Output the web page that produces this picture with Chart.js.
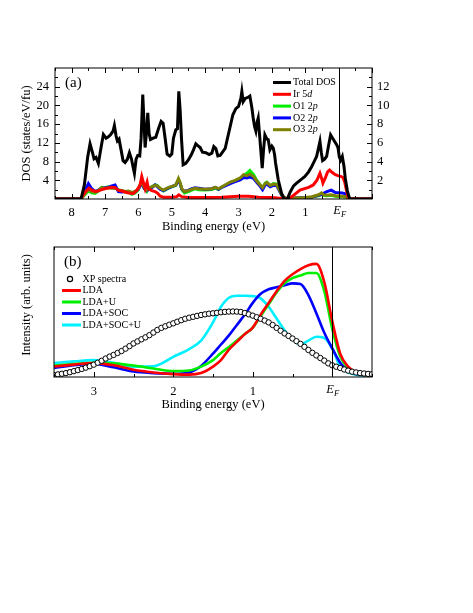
<!DOCTYPE html>
<html>
<head>
<meta charset="utf-8">
<script src="https://cdn.jsdelivr.net/npm/chart.js@4.4.0/dist/chart.umd.min.js"></script>
<style>
  body { margin: 0; background: #fff; }
  #wrap { position: relative; width: 473px; height: 613px; }
  canvas { position: absolute; left: 0; }
  #dos { top: 0; }
  #xps { top: 228px; }
</style>
</head>
<body>
<div id="wrap">
  <canvas id="dos" width="473" height="240"></canvas>
  <canvas id="xps" width="473" height="192"></canvas>
</div>
<script>
/* ---- panel (a): DOS ---- */
const dosTickE = [8, 7, 6, 5, 4, 3, 2, 1, 0];
const dosTickL = [4, 8, 12, 16, 20, 24];
const dosTickR = [2, 4, 6, 8, 10, 12];

const totalE = [8.5, 7.72, 7.62, 7.52, 7.45, 7.38, 7.33, 7.27, 7.2, 7.12, 7.05, 6.97, 6.9, 6.83, 6.76, 6.72, 6.67, 6.63, 6.58, 6.52, 6.46, 6.4, 6.33, 6.27, 6.21, 6.15, 6.12, 6.07, 6.02, 5.96, 5.92, 5.87, 5.83, 5.8, 5.76, 5.72, 5.68, 5.64, 5.56, 5.48, 5.4, 5.32, 5.26, 5.2, 5.14, 5.06, 5.0, 4.95, 4.88, 4.83, 4.79, 4.75, 4.71, 4.66, 4.58, 4.5, 4.42, 4.35, 4.28, 4.22, 4.15, 4.08, 3.98, 3.88, 3.8, 3.74, 3.68, 3.62, 3.55, 3.48, 3.4, 3.33, 3.25, 3.17, 3.08, 3.0, 2.93, 2.9, 2.86, 2.8, 2.72, 2.66, 2.6, 2.56, 2.52, 2.48, 2.44, 2.41, 2.35, 2.29, 2.25, 2.21, 2.15, 2.11, 2.06, 2.0, 1.96, 1.92, 1.89, 1.81, 1.71, 1.63, 1.54, 1.45, 1.35, 1.26, 1.12, 1.01, 0.9, 0.81, 0.72, 0.66, 0.6, 0.56, 0.52, 0.48, 0.42, 0.36, 0.3, 0.24, 0.18, 0.12, 0.06, 0.02, -0.02, -0.06, -0.11, -0.16, -0.2, -0.26, -0.33, -1];
const totalDOS = [0, 0, 3, 9, 11.8, 10, 8.6, 8.9, 7.6, 11, 13.8, 13.0, 13.3, 13.8, 14.5, 15.7, 13.5, 12.4, 12.8, 10.5, 8.2, 7.8, 8.5, 9.9, 8.6, 6.5, 5.5, 8.5, 9.3, 9.2, 13, 22.3, 16, 11, 14, 18.4, 14, 12.7, 13, 13.2, 15, 16.6, 16.2, 13, 9.6, 9.2, 9.6, 13, 14.8, 15, 23, 19, 13, 7.3, 7.6, 8.4, 9.4, 10.5, 11.8, 11.4, 11.0, 10, 9.9, 9.5, 9.8, 11.2, 10.8, 9.2, 9.3, 10, 10.8, 13, 15.5, 18, 19.3, 19.8, 21.5, 23, 20.8, 21.5, 21.7, 22, 19.5, 17.3, 15.5, 14.5, 16.5, 17.3, 12, 6.6, 10.5, 13.7, 12.8, 12.7, 10.5, 11.3, 10.9, 9.5, 7.7, 4.1, 1.2, 0, 0, 1.5, 2.8, 3.4, 4.2, 4.8, 5.8, 6.9, 8.2, 9.1, 11, 12.3, 10, 8.2, 8.5, 9.1, 11.5, 13.7, 13, 12.3, 11.6, 11, 9, 8.3, 9.1, 7, 4.4, 1.8, 0, 0];

const irE = [8.5, 7.72, 7.6, 7.48, 7.38, 7.25, 7.1, 6.95, 6.8, 6.7, 6.6, 6.45, 6.3, 6.15, 6.05, 5.95, 5.9, 5.85, 5.8, 5.74, 5.7, 5.6, 5.5, 5.42, 5.35, 5.25, 5.0, 4.85, 4.79, 4.7, 4.5, 4.0, 3.5, 3.0, 2.7, 2.4, 2.0, 1.7, 1.55, 1.4, 1.16, 0.9, 0.76, 0.65, 0.56, 0.5, 0.47, 0.4, 0.33, 0.27, 0.2, 0.1, 0.02, -0.08, -0.13, -0.18, -0.23, -0.28, -0.33, -1];
const ir5d = [0, 0, 1.5, 2.3, 1.8, 1.6, 2.0, 2.3, 2.5, 2.4, 1.9, 1.6, 1.3, 1.2, 1.8, 3.0, 4.8, 3.5, 2.2, 3.6, 2.2, 1.8, 1.6, 1.2, 0.6, 0.4, 0.4, 0.5, 0.9, 0.5, 0.3, 0.3, 0.4, 0.6, 0.6, 0.4, 0.3, 0.1, 0, 0.5, 1.9, 2.5, 3.0, 4.0, 5.5, 4.2, 3.4, 4.5, 5.8, 6.2, 5.7, 5.2, 5.0, 4.8, 4.6, 3.7, 2.0, 0.5, 0, 0];

const oE = [8.5, 7.72, 7.6, 7.5, 7.4, 7.3, 7.2, 7.1, 7.0, 6.9, 6.8, 6.7, 6.6, 6.5, 6.4, 6.3, 6.2, 6.1, 6.0, 5.93, 5.88, 5.82, 5.75, 5.7, 5.6, 5.5, 5.44, 5.35, 5.25, 5.15, 5.05, 4.95, 4.88, 4.8, 4.75, 4.7, 4.62, 4.5, 4.4, 4.3, 4.2, 4.0, 3.8, 3.7, 3.6, 3.5, 3.4, 3.25, 3.1, 2.95, 2.85, 2.75, 2.66, 2.55, 2.45, 2.35, 2.28, 2.2, 2.15, 2.05, 1.95, 1.86, 1.78, 1.68, 1.55, 1.3, 1.0, 0.8, 0.6, 0.51, 0.45, 0.35, 0.22, 0.1, -0.1, -0.2, -0.3, -1];
const o1 = [0, 0, 1.0, 1.7, 1.3, 1.2, 1.7, 2.5, 2.4, 2.6, 2.4, 2.3, 2.0, 1.8, 1.5, 1.5, 1.0, 1.3, 2.0, 3.3, 3.0, 2.2, 1.6, 2.2, 2.6, 3.0, 2.9, 2.2, 1.7, 2.1, 2.5, 2.7, 2.9, 4.2, 3.4, 2.0, 1.3, 1.6, 1.9, 2.2, 2.0, 1.9, 2.0, 2.3, 2.0, 2.5, 2.9, 3.5, 3.9, 4.4, 5.0, 5.5, 6.1, 5.2, 3.9, 3.0, 2.3, 3.4, 3.6, 2.8, 3.3, 3.2, 2.0, 0.5, 0, 0.2, 0.3, 0.4, 0.7, 1.0, 0.8, 0.7, 0.8, 0.6, 0.5, 0.4, 0, 0];
const o2 = [0, 0, 1.8, 3.3, 2.2, 1.6, 1.9, 2.3, 2.4, 2.5, 2.8, 3.0, 1.6, 1.5, 1.6, 1.6, 1.3, 1.5, 2.1, 3.1, 3.0, 2.2, 1.8, 2.0, 2.4, 3.0, 2.7, 2.1, 1.8, 2.2, 2.5, 2.8, 3.0, 4.0, 3.3, 2.1, 1.6, 1.9, 2.2, 2.4, 2.3, 2.1, 2.2, 2.5, 2.1, 2.5, 2.8, 3.3, 3.7, 4.1, 4.6, 4.5, 4.7, 4.4, 3.5, 2.7, 2.0, 3.0, 3.2, 2.6, 2.9, 2.9, 1.8, 0.5, 0, 0.2, 0.3, 0.4, 0.8, 1.0, 1.2, 1.6, 1.9, 1.4, 1.3, 1.1, 0, 0];
const o3 = [0, 0, 1.2, 2.0, 1.6, 1.4, 1.8, 2.4, 2.3, 2.4, 2.3, 2.4, 1.9, 1.8, 1.6, 1.7, 1.4, 1.6, 2.2, 3.4, 3.2, 2.4, 1.9, 2.3, 2.6, 2.9, 2.8, 2.3, 1.9, 2.3, 2.6, 2.8, 3.0, 4.4, 3.5, 2.2, 1.6, 1.8, 2.1, 2.3, 2.2, 2.1, 2.2, 2.5, 2.2, 2.6, 3.0, 3.6, 4.0, 4.5, 5.2, 5.0, 5.3, 4.8, 3.8, 3.0, 2.4, 3.3, 3.5, 2.9, 3.2, 3.1, 2.0, 0.6, 0, 0.2, 0.3, 0.5, 0.9, 1.3, 0.9, 0.8, 0.9, 0.7, 0.6, 0.5, 0, 0];

const dosLabels = [['Total DOS', ''], ['Ir 5', 'd'], ['O1 2', 'p'], ['O2 2', 'p'], ['O3 2', 'p']];

/* ---- panel (b): XPS ---- */
const xpsTickE = [3, 2, 1, 0];
const xpsE = [3.5, 3.45, 3.4, 3.35, 3.3, 3.25, 3.2, 3.15, 3.1, 3.05, 3.0, 2.95, 2.9, 2.85, 2.8, 2.75, 2.7, 2.65, 2.6, 2.55, 2.5, 2.45, 2.4, 2.35, 2.3, 2.25, 2.2, 2.15, 2.1, 2.05, 2.0, 1.95, 1.9, 1.85, 1.8, 1.75, 1.7, 1.65, 1.6, 1.55, 1.5, 1.45, 1.4, 1.35, 1.3, 1.25, 1.2, 1.15, 1.1, 1.05, 1.0, 0.95, 0.9, 0.85, 0.8, 0.75, 0.7, 0.65, 0.6, 0.55, 0.5, 0.45, 0.4, 0.35, 0.3, 0.25, 0.2, 0.15, 0.1, 0.05, 0.0, -0.05, -0.1, -0.15, -0.2, -0.25, -0.3, -0.35, -0.4, -0.45, -0.5];
const xpsI = [0.015, 0.02, 0.025, 0.03, 0.037, 0.045, 0.053, 0.062, 0.072, 0.083, 0.095, 0.11, 0.125, 0.142, 0.157, 0.17, 0.185, 0.2, 0.218, 0.238, 0.258, 0.274, 0.29, 0.305, 0.322, 0.342, 0.362, 0.378, 0.39, 0.402, 0.413, 0.425, 0.437, 0.448, 0.456, 0.463, 0.47, 0.477, 0.482, 0.487, 0.49, 0.494, 0.498, 0.501, 0.503, 0.504, 0.503, 0.5, 0.492, 0.482, 0.472, 0.46, 0.448, 0.434, 0.42, 0.4, 0.378, 0.356, 0.335, 0.316, 0.296, 0.276, 0.255, 0.232, 0.208, 0.186, 0.166, 0.146, 0.126, 0.105, 0.09, 0.079, 0.069, 0.058, 0.049, 0.041, 0.035, 0.03, 0.027, 0.024, 0.022];

const calcE = [3.5, 3.25, 3.0, 2.75, 2.5, 2.25, 2.0, 1.8, 1.65, 1.5, 1.4, 1.3, 1.2, 1.1, 1.0, 0.9, 0.8, 0.7, 0.6, 0.5, 0.4, 0.3, 0.2, 0.1, 0.0, -0.1, -0.2, -0.3, -0.4, -0.5];
const lda = [0.081, 0.095, 0.107, 0.09, 0.056, 0.035, 0.022, 0.018, 0.03, 0.08, 0.13, 0.21, 0.27, 0.33, 0.38, 0.48, 0.57, 0.66, 0.74, 0.79, 0.83, 0.86, 0.87, 0.73, 0.43, 0.18, 0.08, 0.035, 0.018, 0.012];
const ldaU = [0.089, 0.1, 0.11, 0.105, 0.088, 0.065, 0.045, 0.05, 0.08, 0.13, 0.185, 0.23, 0.28, 0.33, 0.38, 0.47, 0.56, 0.65, 0.72, 0.76, 0.78, 0.8, 0.8, 0.66, 0.37, 0.16, 0.07, 0.03, 0.016, 0.01];
const ldaSoc = [0.069, 0.09, 0.1, 0.075, 0.042, 0.03, 0.025, 0.035, 0.085, 0.18, 0.25, 0.32, 0.4, 0.48, 0.57, 0.64, 0.675, 0.69, 0.705, 0.72, 0.715, 0.63, 0.49, 0.34, 0.22, 0.11, 0.05, 0.025, 0.015, 0.01];
const ldaSocU = [0.107, 0.12, 0.13, 0.11, 0.08, 0.082, 0.155, 0.215, 0.28, 0.42, 0.54, 0.61, 0.625, 0.625, 0.622, 0.605, 0.54, 0.45, 0.36, 0.29, 0.25, 0.28, 0.31, 0.3, 0.22, 0.08, 0.035, 0.018, 0.012, 0.01];
const xpsLabels = ['XP spectra', 'LDA', 'LDA+U', 'LDA+SOC', 'LDA+SOC+U'];

const FONT = '"Liberation Serif", "Times New Roman", serif';
Chart.defaults.font.family = FONT;
Chart.defaults.color = '#000';

const pts = (xs, ys) => xs.map((x, i) => ({ x: x, y: ys[i] }));

function line(data, color, width, order) {
  return { data: data, borderColor: color, backgroundColor: color, borderWidth: width,
    pointRadius: 0, tension: 0, fill: false, order: order };
}

function richText(ctx, x, y, parts, size) {
  parts.forEach((p, i) => {
    if (!p) return;
    ctx.font = (i === 1 ? 'italic ' : '') + size + 'px ' + FONT;
    ctx.fillText(p, x, y);
    x += ctx.measureText(p).width;
  });
}

// frame, inward ticks, E_F line and label
function drawFrame(chart, cfg) {
  const { ctx, chartArea: a, scales } = chart;
  const xs = scales.x;
  ctx.save();
  ctx.strokeStyle = '#000';
  ctx.lineWidth = 1;
  ctx.strokeRect(a.left, a.top, a.right - a.left, a.bottom - a.top);
  ctx.beginPath();
  for (let v = cfg.xMax; v >= cfg.xMin; v -= 0.5) {
    const len = Number.isInteger(v) ? 5 : 3;
    const px = Math.round(xs.getPixelForValue(v)) + 0.5;
    ctx.moveTo(px, a.bottom); ctx.lineTo(px, a.bottom - len);
    ctx.moveTo(px, a.top); ctx.lineTo(px, a.top + len);
  }
  if (cfg.yLeft) {
    const ys = scales.y;
    for (let v = 2; v < 28; v += 2) {
      const len = v % 4 === 0 ? 5 : 3;
      const py = Math.round(ys.getPixelForValue(v)) + 0.5;
      ctx.moveTo(a.left, py); ctx.lineTo(a.left + len, py);
    }
    const y2 = scales.y2;
    for (let v = 1; v < 14; v += 1) {
      const len = v % 2 === 0 ? 5 : 3;
      const py = Math.round(y2.getPixelForValue(v)) + 0.5;
      ctx.moveTo(a.right, py); ctx.lineTo(a.right - len, py);
    }
  }
  const ef = Math.round(xs.getPixelForValue(0)) + 0.5;
  ctx.moveTo(ef, a.top); ctx.lineTo(ef, a.bottom);
  ctx.stroke();

  ctx.fillStyle = '#000';
  ctx.textBaseline = 'middle';
  ctx.textAlign = 'right';
  ctx.font = 'italic 12.5px ' + FONT;
  ctx.fillText('E', ef + 1.5, a.bottom + cfg.efDy);
  ctx.textAlign = 'left';
  ctx.font = 'italic 8.5px ' + FONT;
  ctx.fillText('F', ef + 1.5, a.bottom + cfg.efDy + 4);

  ctx.font = '15px ' + FONT;
  ctx.fillText(cfg.tag, a.left + 10, a.top + 15);
  ctx.restore();
}

const dosPlugin = {
  id: 'dosDecor',
  afterDatasetsDraw(chart) {
    drawFrame(chart, { xMax: 8.5, xMin: -1, yLeft: true, efDy: 12, tag: '(a)' });
    const { ctx, chartArea: a } = chart;
    const colors = ['#000000', '#ff0000', '#00ee00', '#0000ff', '#808000'];
    ctx.save();
    ctx.textBaseline = 'middle';
    ctx.textAlign = 'left';
    ctx.fillStyle = '#000';
    dosLabels.forEach((lab, i) => {
      const y = a.top + 14.5 + i * 11.8;
      ctx.strokeStyle = colors[i];
      ctx.lineWidth = 3;
      ctx.beginPath();
      ctx.moveTo(a.right - 99, y); ctx.lineTo(a.right - 81, y);
      ctx.stroke();
      richText(ctx, a.right - 79, y, lab, 10);
    });
    ctx.restore();
  }
};

const xpsPlugin = {
  id: 'xpsDecor',
  afterDatasetsDraw(chart) {
    drawFrame(chart, { xMax: 3.5, xMin: -0.5, yLeft: false, efDy: 13, tag: '(b)' });
    const { ctx, chartArea: a } = chart;
    const colors = ['#000', '#ff0000', '#00ee00', '#0000ff', '#00f0ff'];
    ctx.save();
    ctx.textBaseline = 'middle';
    ctx.textAlign = 'left';
    ctx.fillStyle = '#000';
    xpsLabels.forEach((lab, i) => {
      const y = a.top + 32 + i * 11.5;
      if (i === 0) {
        ctx.strokeStyle = '#000';
        ctx.lineWidth = 1.2;
        ctx.beginPath();
        ctx.arc(a.left + 16, y, 2.6, 0, Math.PI * 2);
        ctx.stroke();
      } else {
        ctx.strokeStyle = colors[i];
        ctx.lineWidth = 3;
        ctx.beginPath();
        ctx.moveTo(a.left + 8, y); ctx.lineTo(a.left + 27, y);
        ctx.stroke();
      }
      richText(ctx, a.left + 28.5, y, [lab], 10);
    });
    // y title
    ctx.translate(26.5, a.top + 58);
    ctx.rotate(-Math.PI / 2);
    ctx.textAlign = 'center';
    ctx.font = '12.5px ' + FONT;
    ctx.fillText('Intensity (arb. units)', 0, 0);
    ctx.restore();
  }
};

const noGrid = { display: false, drawTicks: false };

new Chart(document.getElementById('dos'), {
  type: 'line',
  data: {
    datasets: [
      line(pts(totalE, totalDOS), '#000000', 3, 0),
      line(pts(irE, ir5d), '#ff0000', 3, 1),
      line(pts(oE, o1), '#00ee00', 3, 4),
      line(pts(oE, o2), '#0000ff', 3, 3),
      line(pts(oE, o3), '#808000', 3, 2)
    ]
  },
  options: {
    responsive: false,
    animation: false,
    layout: { padding: { top: 68, left: 0, right: 0, bottom: 0 } },
    plugins: { legend: { display: false }, tooltip: { enabled: false } },
    scales: {
      x: {
        type: 'linear', reverse: true, min: -1, max: 8.5,
        grid: noGrid, border: { display: false },
        afterBuildTicks: (s) => { s.ticks = dosTickE.map((v) => ({ value: v })); },
        ticks: { autoSkip: false, maxRotation: 0, padding: 6, font: { size: 12.5 },
          callback: (v) => (v === 0 ? '' : String(v)) },
        title: { display: true, text: 'Binding energy (eV)', font: { size: 12.5 }, padding: { top: 0, bottom: 6 } },
        afterFit: (s) => { s.height = 41; }
      },
      y: {
        position: 'left', min: 0, max: 28,
        grid: noGrid, border: { display: false },
        afterBuildTicks: (s) => { s.ticks = dosTickL.map((v) => ({ value: v })); },
        ticks: { padding: 6, font: { size: 12.5 } },
        title: { display: true, text: 'DOS (states/eV/fu)', font: { size: 12.5 }, padding: { top: 19, bottom: 0 } },
        afterFit: (s) => { s.width = 55; }
      },
      y2: {
        position: 'right', min: 0, max: 14,
        grid: noGrid, border: { display: false },
        afterBuildTicks: (s) => { s.ticks = dosTickR.map((v) => ({ value: v })); },
        ticks: { padding: 5, font: { size: 12.5 } },
        afterFit: (s) => { s.width = 101; }
      }
    }
  },
  plugins: [dosPlugin]
});

new Chart(document.getElementById('xps'), {
  type: 'line',
  data: {
    datasets: [
      { data: pts(xpsE, xpsI), showLine: false, pointRadius: 2.7, pointBorderWidth: 1,
        pointBorderColor: '#000', pointBackgroundColor: '#fff', order: 0 },
      Object.assign(line(pts(calcE, lda), '#ff0000', 2.6, 1), { cubicInterpolationMode: 'monotone' }),
      Object.assign(line(pts(calcE, ldaU), '#00ee00', 2.6, 2), { cubicInterpolationMode: 'monotone' }),
      Object.assign(line(pts(calcE, ldaSoc), '#0000ff', 2.6, 3), { cubicInterpolationMode: 'monotone' }),
      Object.assign(line(pts(calcE, ldaSocU), '#00f0ff', 2.6, 4), { cubicInterpolationMode: 'monotone' })
    ]
  },
  options: {
    responsive: false,
    animation: false,
    layout: { padding: { top: 19, left: 0, right: 101, bottom: 0 } },
    plugins: { legend: { display: false }, tooltip: { enabled: false } },
    scales: {
      x: {
        type: 'linear', reverse: true, min: -0.5, max: 3.5,
        grid: noGrid, border: { display: false },
        afterBuildTicks: (s) => { s.ticks = xpsTickE.map((v) => ({ value: v })); },
        ticks: { autoSkip: false, maxRotation: 0, padding: 7, font: { size: 12.5 },
          callback: (v) => (v === 0 ? '' : String(v)) },
        title: { display: true, text: 'Binding energy (eV)', font: { size: 12.5 }, padding: { top: 0, bottom: 8 } },
        afterFit: (s) => { s.height = 43; }
      },
      y: {
        min: 0, max: 1,
        grid: noGrid, border: { display: false },
        ticks: { display: false },
        afterFit: (s) => { s.width = 54; }
      }
    }
  },
  plugins: [xpsPlugin]
});
</script>
</body>
</html>
